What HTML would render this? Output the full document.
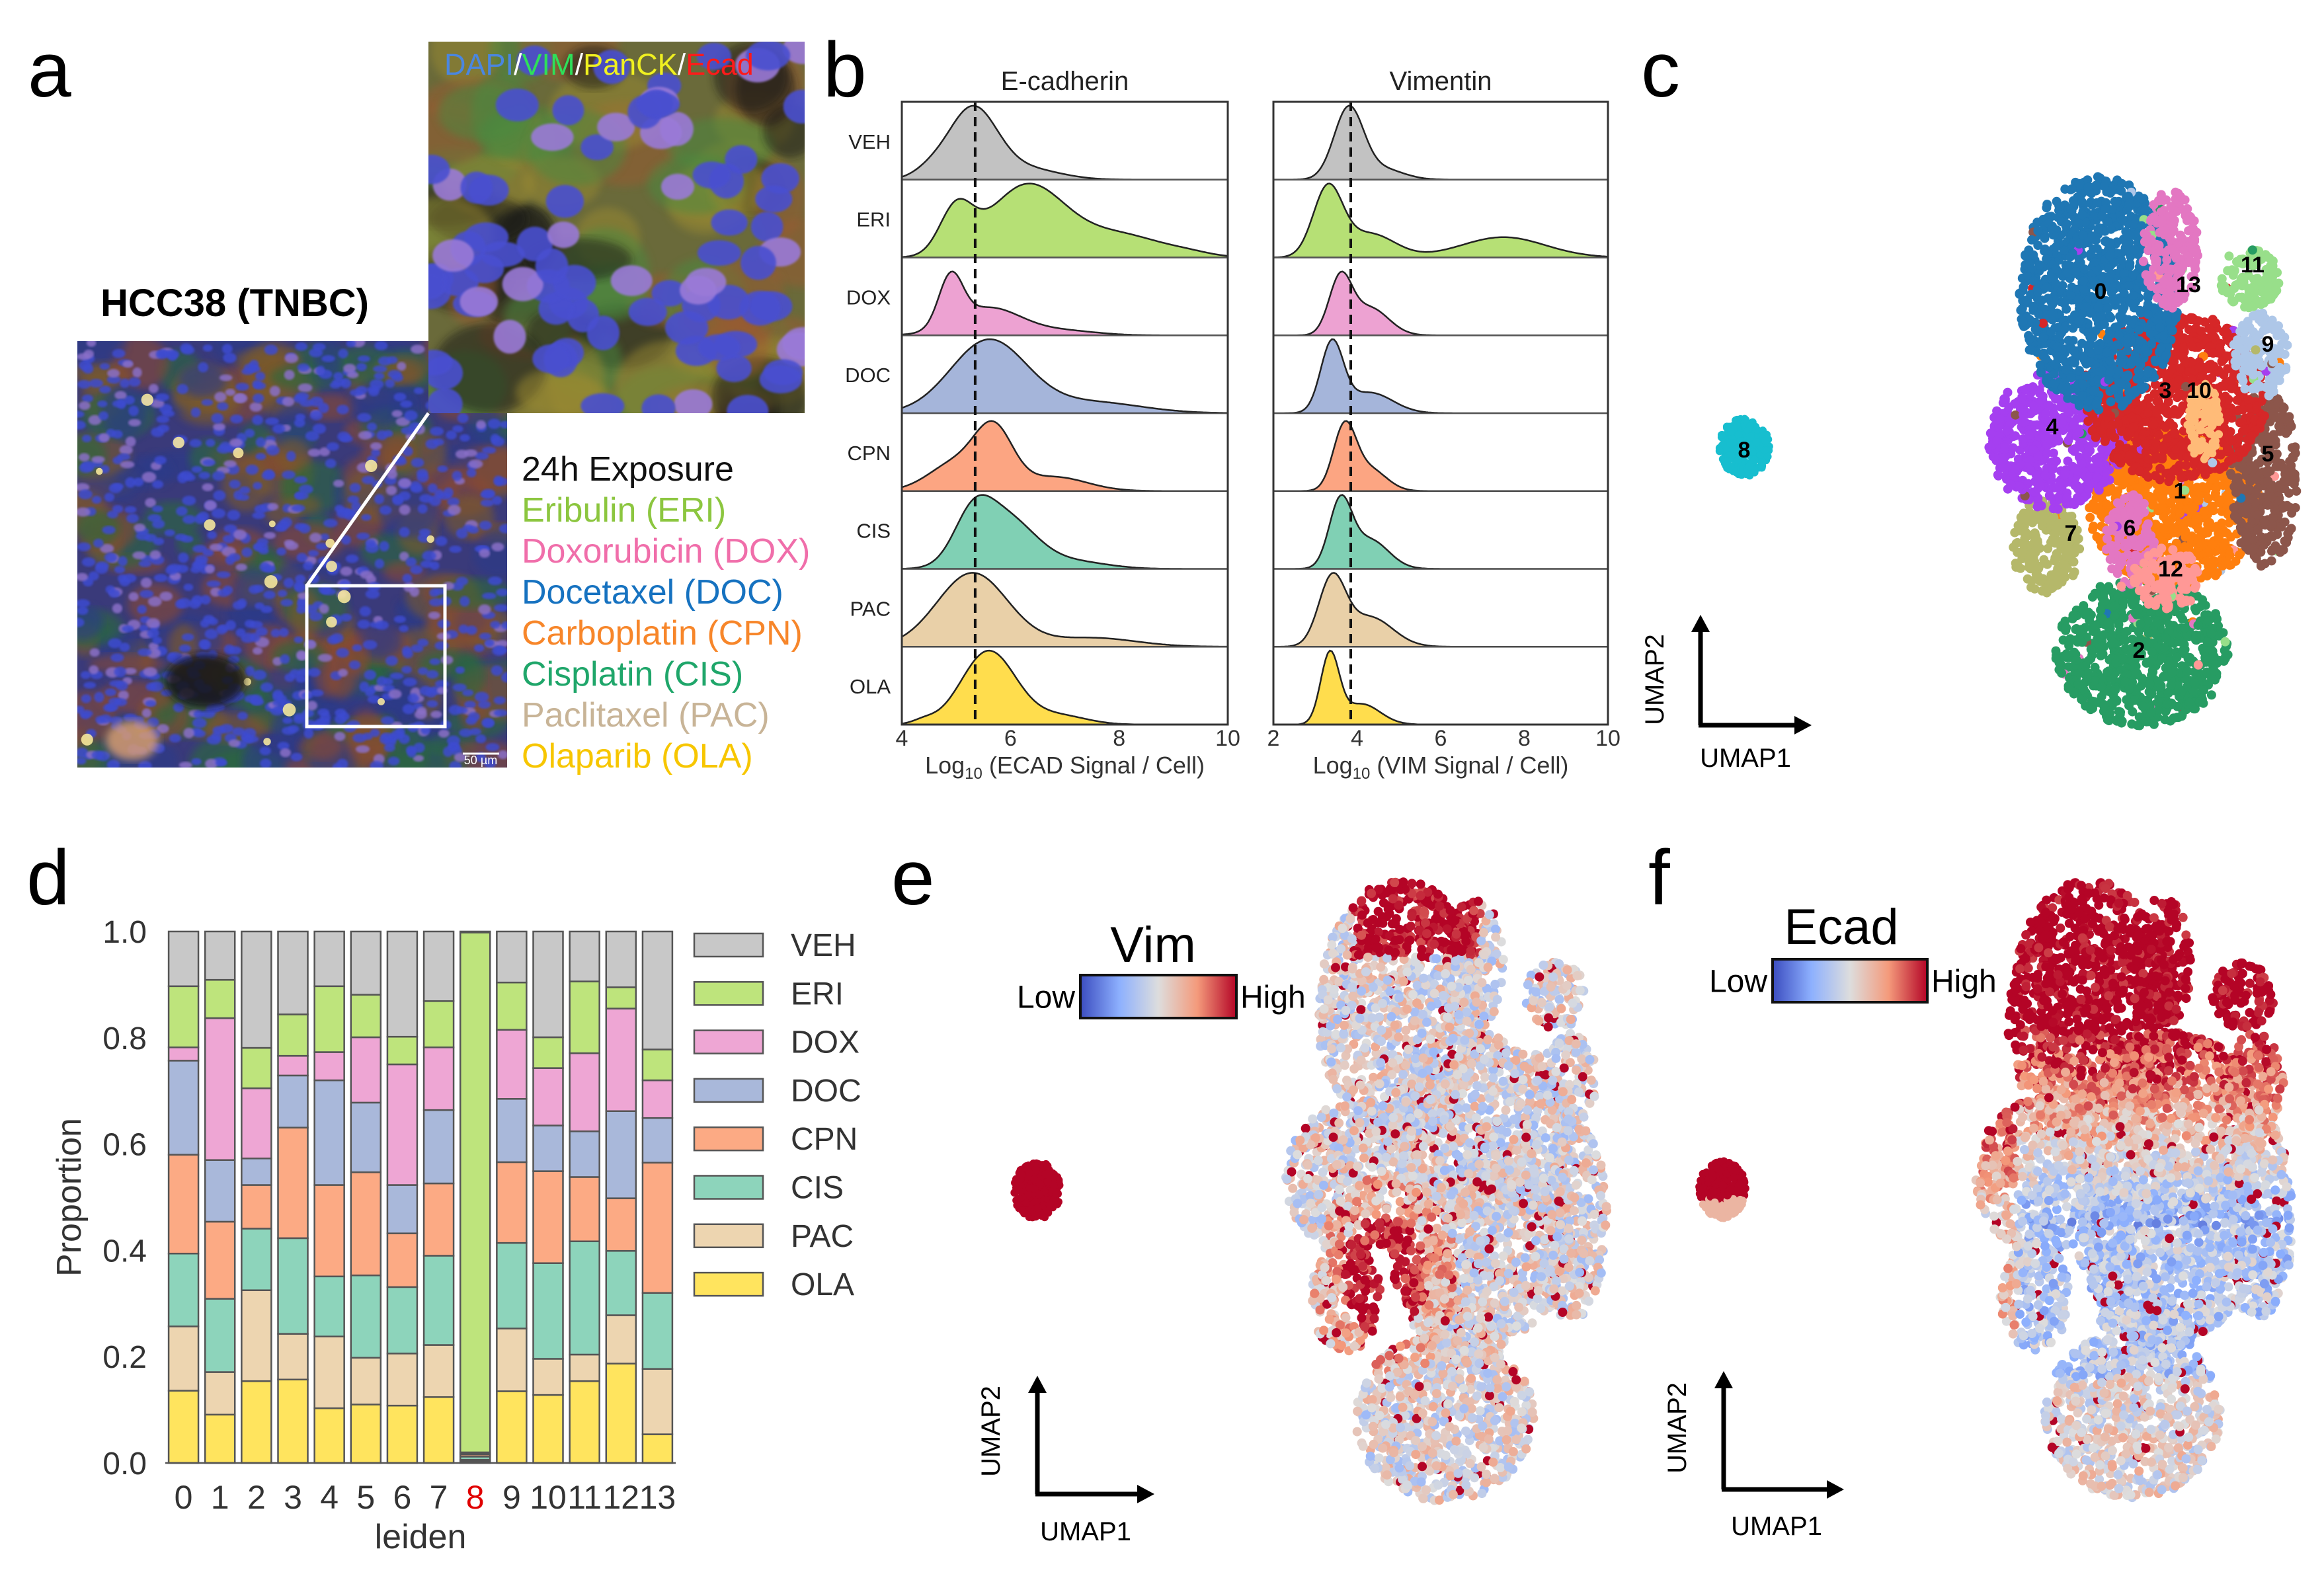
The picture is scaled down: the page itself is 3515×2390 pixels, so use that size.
<!DOCTYPE html>
<html><head><meta charset="utf-8">
<style>
html,body{margin:0;padding:0;background:#fff;}
svg{display:block;font-family:"Liberation Sans",Arial,sans-serif;}
</style></head>
<body>
<svg id="fig" width="3515" height="2390" viewBox="0 0 3515 2390" xmlns="http://www.w3.org/2000/svg">
<defs>
  <linearGradient id="cw" x1="0" x2="1" y1="0" y2="0">
    <stop offset="0" stop-color="#3b4cc0"/><stop offset="0.25" stop-color="#8db0fe"/>
    <stop offset="0.5" stop-color="#dddddd"/><stop offset="0.75" stop-color="#f49a7b"/>
    <stop offset="1" stop-color="#b40426"/>
  </linearGradient>
  <filter id="blur4"><feGaussianBlur stdDeviation="6"/></filter>
  <filter id="blur2"><feGaussianBlur stdDeviation="1.5"/></filter>
  <clipPath id="clipBig"><rect x="117" y="516" width="650" height="645"/></clipPath>
  <clipPath id="clipIn"><rect x="648" y="63" width="569" height="562"/></clipPath>
</defs>

<text x="42" y="146" font-size="118">a</text>
<text x="1245" y="146" font-size="118">b</text>
<text x="2482" y="146" font-size="118">c</text>
<text x="40" y="1368" font-size="118">d</text>
<text x="1348" y="1368" font-size="118">e</text>
<text x="2493" y="1368" font-size="118">f</text>

<g id="panelA">
  <text x="152" y="478" font-size="58" font-weight="bold">HCC38 (TNBC)</text>
  <rect x="117" y="516" width="650" height="645" fill="#3a3a7a"/>
  <g id="bigCells" clip-path="url(#clipBig)"></g>
  <rect x="648" y="63" width="569" height="562" fill="#6a6a3a"/>
  <g id="inCells" clip-path="url(#clipIn)"></g>
  <rect x="464" y="886" width="209" height="213" fill="none" stroke="#fff" stroke-width="5"/>
  <line x1="464" y1="886" x2="648" y2="625" stroke="#fff" stroke-width="5"/>
  <line x1="700" y1="1140" x2="755" y2="1140" stroke="#fff" stroke-width="3"/>
  <text x="727" y="1140" font-size="18" fill="#fff" text-anchor="middle" dy="16">50 µm</text>
  <text x="672" y="113" font-size="45"><tspan fill="#4a86e0">DAPI</tspan><tspan fill="#fff">/</tspan><tspan fill="#2ee05a">VIM</tspan><tspan fill="#fff">/</tspan><tspan fill="#f0f020">PanCK</tspan><tspan fill="#fff">/</tspan><tspan fill="#ff1a1a">Ecad</tspan></text>
  <g font-size="52">
    <text x="789" y="727" fill="#111">24h Exposure</text>
    <text x="789" y="789" fill="#8cc63f">Eribulin (ERI)</text>
    <text x="789" y="851" fill="#f06eaa">Doxorubicin (DOX)</text>
    <text x="789" y="913" fill="#1672c0">Docetaxel (DOC)</text>
    <text x="789" y="975" fill="#f7862a">Carboplatin (CPN)</text>
    <text x="789" y="1037" fill="#1fa66a">Cisplatin (CIS)</text>
    <text x="789" y="1099" fill="#c8b497">Paclitaxel (PAC)</text>
    <text x="789" y="1161" fill="#f7c600">Olaparib (OLA)</text>
  </g>
</g>

<g id="panelB"></g>
<g id="panelC"></g>
<g id="panelD"></g>
<g id="panelE"></g>
<g id="panelF"></g>
</svg>

<script>
// ===== Panel d data (cumulative proportion tops per leiden cluster) =====
const leidenCats = ["0","1","2","3","4","5","6","7","8","9","10","11","12","13"];
const seriesNames = ["OLA","PAC","CIS","CPN","DOC","DOX","ERI","VEH"];
const cumOLA = [0.136,0.091,0.154,0.157,0.103,0.110,0.108,0.124,0.003,0.135,0.128,0.154,0.187,0.054];
const cumPAC = [0.257,0.171,0.325,0.243,0.238,0.198,0.206,0.222,0.006,0.253,0.196,0.204,0.278,0.177];
const cumCIS = [0.394,0.309,0.441,0.423,0.351,0.353,0.331,0.390,0.012,0.414,0.376,0.417,0.399,0.320];
const cumCPN = [0.580,0.454,0.523,0.631,0.523,0.547,0.432,0.526,0.016,0.566,0.549,0.538,0.498,0.565];
const cumDOC = [0.757,0.570,0.573,0.729,0.720,0.678,0.523,0.664,0.018,0.685,0.635,0.624,0.662,0.649];
const cumDOX = [0.782,0.837,0.705,0.766,0.773,0.801,0.750,0.782,0.020,0.815,0.743,0.771,0.855,0.720];
const cumERI = [0.897,0.909,0.781,0.844,0.897,0.881,0.802,0.869,0.998,0.904,0.801,0.906,0.895,0.778];
const cumVEH = [1,1,1,1,1,1,1,1,1,1,1,1,1,1];
const yTicks = [0,0.2,0.4,0.6,0.8,1.0];
const yTickLabels = ["0.0","0.2","0.4","0.6","0.8","1.0"];

// ===== Panel b data: density mixture components [mean, sd, weight] =====
const ridgeRows = ["VEH","ERI","DOX","DOC","CPN","CIS","PAC","OLA"];
const ecadVEH = [[5.3,0.45,1],[6.3,0.6,0.15],[4.5,0.3,0.1]];
const ecadERI = [[5.0,0.3,0.5],[6.3,0.7,0.8],[8.0,0.8,0.25],[9.3,0.4,0.03]];
const ecadDOX = [[4.9,0.22,0.9],[5.6,0.6,0.5],[7.0,0.6,0.08]];
const ecadDOC = [[5.6,0.7,1],[7.5,0.9,0.15]];
const ecadCPN = [[5.7,0.35,0.8],[5.0,0.5,0.4],[6.8,0.6,0.2]];
const ecadCIS = [[5.3,0.35,0.6],[5.9,0.55,0.75],[7.2,0.6,0.1]];
const ecadPAC = [[5.3,0.65,1],[7.5,0.8,0.12]];
const ecadOLA = [[5.6,0.5,1],[6.9,0.5,0.12],[4.4,0.2,0.05]];
const vimVEH = [[3.8,0.35,1],[4.6,0.5,0.15]];
const vimERI = [[3.3,0.35,1],[4.3,0.6,0.35],[7.5,1.0,0.3]];
const vimDOX = [[3.6,0.27,1],[4.3,0.45,0.5]];
const vimDOC = [[3.4,0.27,1],[4.3,0.55,0.3]];
const vimCPN = [[3.7,0.27,1],[4.3,0.4,0.35]];
const vimCIS = [[3.6,0.27,1],[4.3,0.45,0.45]];
const vimPAC = [[3.4,0.32,1],[4.3,0.55,0.45]];
const vimOLA = [[3.35,0.22,1],[4.1,0.45,0.3]];
const ridgePeak = [0.95,0.95,0.82,0.95,0.9,0.95,0.95,0.95];
const ecadMedian = [5.35];
const vimMedian = [3.85];

const NS = "http://www.w3.org/2000/svg";
function mk(tag, attrs, parent){
  const e = document.createElementNS(NS, tag);
  for (const k in attrs) e.setAttribute(k, attrs[k]);
  if (parent) parent.appendChild(e);
  return e;
}
let seed = 12345;
function rnd(){ seed |= 0; seed = seed + 0x6D2B79F5 | 0; let t = Math.imul(seed ^ seed >>> 15, 1 | seed); t = t + Math.imul(t ^ t >>> 7, 61 | t) ^ t; return ((t ^ t >>> 14) >>> 0) / 4294967296; }

// ===== Panel a microscopy texture (decorative) =====
(function(){
  const big = document.getElementById('bigCells');
  const cols = ['#7a5a2a','#2a6a3a','#8a4a30','#2a3a8a'];
  for (let i=0;i<220;i++){
    mk('ellipse',{cx:117+rnd()*650, cy:516+rnd()*645, rx:20+rnd()*40, ry:15+rnd()*30, fill:cols[i%4], opacity:0.6, filter:'url(#blur4)'}, big);
  }
  for (let i=0;i<900;i++){
    mk('ellipse',{cx:117+rnd()*650, cy:516+rnd()*645, rx:7+rnd()*4, ry:5+rnd()*3, fill:rnd()<0.8?'#3c4cd0':'#8a70c8', opacity:0.85, filter:'url(#blur2)'}, big);
  }
  for (let i=0;i<18;i++){
    mk('circle',{cx:117+rnd()*650, cy:516+rnd()*645, r:5+rnd()*5, fill:'#fff0a0', opacity:0.85}, big);
  }
  mk('ellipse',{cx:310,cy:1030,rx:60,ry:40,fill:'#151515',opacity:0.85,filter:'url(#blur4)'},big);
  mk('ellipse',{cx:200,cy:1120,rx:40,ry:30,fill:'#e0a070',opacity:0.8,filter:'url(#blur4)'},big);
  const inn = document.getElementById('inCells');
  for (let i=0;i<70;i++){
    mk('ellipse',{cx:648+rnd()*569, cy:63+rnd()*562, rx:40+rnd()*50, ry:30+rnd()*40, fill:['#9a8a30','#4a8a40','#9a5a30','#151515'][i%4], opacity:0.5, filter:'url(#blur4)'}, inn);
  }
  for (let i=0;i<85;i++){
    mk('ellipse',{cx:648+rnd()*569, cy:63+rnd()*562, rx:24+rnd()*10, ry:19+rnd()*8, fill:rnd()<0.85?'#4a50d0':'#9a7ad8', opacity:0.9, filter:'url(#blur2)'}, inn);
  }
})();

// ===== Panel b ridge plots =====
(function(){
  const g = document.getElementById('panelB');
  const top = 154, bot = 1096, nR = ridgeRows.length, rh = (bot-top)/nR;
  const colors = ['#c2c2c2','#b6e075','#eda2d2','#a5b5da','#fca582','#80d0b4','#e9d0a8','#ffdd4d'];
  const panels = [
    {name:'ecad', x0:1364, x1:1857, min:4, max:10, ticks:[4,6,8,10], title:'E-cadherin', data:[ecadVEH,ecadERI,ecadDOX,ecadDOC,ecadCPN,ecadCIS,ecadPAC,ecadOLA], med:ecadMedian[0], lab:'ECAD'},
    {name:'vim', x0:1926, x1:2432, min:2, max:10, ticks:[2,4,6,8,10], title:'Vimentin', data:[vimVEH,vimERI,vimDOX,vimDOC,vimCPN,vimCIS,vimPAC,vimOLA], med:vimMedian[0], lab:'VIM'}
  ];
  panels.forEach(p=>{
    const sx = v => p.x0 + (v-p.min)/(p.max-p.min)*(p.x1-p.x0);
    const t = mk('text',{x:(p.x0+p.x1)/2, y:136, 'font-size':40, 'text-anchor':'middle', fill:'#222'}, g);
    t.textContent = p.title;
    
    
    p.data.forEach((comps,i)=>{
      const base = top + (i+1)*rh;
      const N=160; const ys=[];
      let mx=0;
      for (let k=0;k<=N;k++){
        const v = p.min + (p.max-p.min)*k/N;
        let d=0; comps.forEach(c=>{ d += c[2]*Math.exp(-0.5*Math.pow((v-c[0])/c[1],2)); });
        ys.push(d); if(d>mx) mx=d;
      }
      let dpath = 'M'+p.x0+','+base;
      ys.forEach((d,k)=>{ const v=p.min+(p.max-p.min)*k/N; dpath += ' L'+sx(v).toFixed(1)+','+(base - d/mx*ridgePeak[i]*rh).toFixed(1); });
      dpath += ' L'+p.x1+','+base+' Z';
      const path = mk('path',{d:dpath, fill:colors[i], stroke:'#222', 'stroke-width':2.5}, g);
      
      
      const sep = mk('line',{x1:p.x0,x2:p.x1,y1:base,y2:base,stroke:'#555','stroke-width':2}, g);
      
      
      if (p.name==='ecad'){
        const lt = mk('text',{x:1347, y:top+(i+0.5)*rh+12, 'font-size':31, 'text-anchor':'end', fill:'#222'}, g);
        lt.textContent = ridgeRows[i];
        
        
      }
    });
    const ml = mk('line',{x1:sx(p.med),x2:sx(p.med),y1:top,y2:bot,stroke:'#111','stroke-width':4,'stroke-dasharray':'14,9'}, g);
    
    
    const fr = mk('rect',{x:p.x0,y:top,width:p.x1-p.x0,height:bot-top,fill:'none',stroke:'#333','stroke-width':3}, g);
    
    
    p.ticks.forEach(tv=>{
      const tt = mk('text',{x:sx(tv), y:1128, 'font-size':34, 'text-anchor':'middle', fill:'#333'}, g);
      tt.textContent = tv;
      
      
    });
    const xl = mk('text',{x:(p.x0+p.x1)/2, y:1170, 'font-size':36, 'text-anchor':'middle', fill:'#333'}, g);
    xl.innerHTML = 'Log<tspan font-size="24" dy="8">10</tspan><tspan dy="-8"> ('+p.lab+' Signal / Cell)</tspan>';
    
    
  });
})();

// ===== UMAP shape (normalized ellipse regions) =====
const clusterIds = ["0","13","11","9","3","4","5","1","7","6","12","2"];
const clusterColors = ["#1f77b4","#e377c2","#98df8a","#aec7e8","#d62728","#a53ff0","#8c564b","#ff7f0e","#b5b86a","#e377c2","#ff9896","#279c63"];
const ell = [
  [0.349,0.192,0.26,0.22],[0.581,0.110,0.09,0.11],[0.835,0.164,0.10,0.055],[0.874,0.307,0.09,0.08],
  [0.595,0.384,0.30,0.16],[0.209,0.466,0.22,0.13],[0.884,0.534,0.11,0.17],[0.595,0.589,0.28,0.15],
  [0.177,0.666,0.11,0.09],[0.451,0.658,0.08,0.09],[0.567,0.726,0.11,0.06],[0.488,0.863,0.28,0.14]
];
const drawOrder = [11,8,7,6,5,4,0,1,3,2,9,10];
function samplePts(n){
  const pts=[]; const areas = ell.map(e=>e[2]*e[3]); const tot = areas.reduce((a,b)=>a+b,0);
  drawOrder.forEach(ci=>{
    const e = ell[ci]; const k = Math.round(n*areas[ci]/tot);
    for (let i=0;i<k;i++){
      const a=rnd()*Math.PI*2, r=Math.sqrt(rnd());
      pts.push({u:e[0]+Math.cos(a)*r*e[2], v:e[1]+Math.sin(a)*r*e[3], c:ci});
    }
  });
  return pts;
}
function cw(t){
  t=Math.max(0,Math.min(1,t));
  const st=[[0,[59,76,192]],[0.25,[141,176,254]],[0.5,[221,221,221]],[0.75,[244,154,123]],[1,[180,4,38]]];
  for (let i=0;i<4;i++){ if (t<=st[i+1][0]){ const f=(t-st[i][0])/(st[i+1][0]-st[i][0]); const a=st[i][1],b=st[i+1][1];
    return 'rgb('+a.map((x,j)=>Math.round(x+(b[j]-x)*f)).join(',')+')'; } }
  return 'rgb(180,4,38)';
}
function umapAxes(g, x, y0, y1, x1, lab2x, lab2y, lab1x, lab1y, pfx){
  const l1 = mk('line',{x1:x,y1:y0,x2:x,y2:y1+20,stroke:'#000','stroke-width':7}, g);
   
  const h1 = mk('polygon',{points:(x-14)+','+(y1+26)+' '+(x+14)+','+(y1+26)+' '+x+','+y1, fill:'#000'}, g);
   
  const l2 = mk('line',{x1:x-3,y1:y0,x2:x1-22,y2:y0,stroke:'#000','stroke-width':7}, g);
   
  const h2 = mk('polygon',{points:(x1-26)+','+(y0-14)+' '+(x1-26)+','+(y0+14)+' '+x1+','+y0, fill:'#000'}, g);
   
  const t2 = mk('text',{x:lab2x,y:lab2y,'font-size':40,'text-anchor':'middle',transform:'rotate(-90 '+lab2x+' '+lab2y+')'}, g);
  t2.textContent='UMAP2';  
  const t1 = mk('text',{x:lab1x,y:lab1y,'font-size':40,'text-anchor':'middle'}, g);
  t1.textContent='UMAP1';  
}

// ===== Panel c =====
(function(){
  const g = document.getElementById('panelC');
  const bx=3012, by=289, bw=466, bh=808;
  const pts = samplePts(5500);
  pts.forEach(p=>{
    const col = rnd()<0.02 ? clusterColors[Math.floor(rnd()*12)] : clusterColors[p.c];
    const d = mk('circle',{cx:(bx+p.u*bw).toFixed(1), cy:(by+p.v*bh).toFixed(1), r:7, fill:col}, g);
     
  });
  for (let i=0;i<140;i++){ const a=rnd()*6.28,r=Math.sqrt(rnd());
    const d = mk('circle',{cx:3333+Math.cos(a)*r*25, cy:640+Math.sin(a)*r*60, r:6, fill:'#ffbb78'}, g);
      }
  for (let i=0;i<300;i++){ const a=rnd()*6.28,r=Math.sqrt(rnd());
    const d = mk('circle',{cx:2638+Math.cos(a)*r*38, cy:677+Math.sin(a)*r*44, r:6, fill:'#17becf'}, g);
      }
  const labs = [["0",3177,452],["13",3310,442],["11",3407,412],["9",3430,532],["3",3275,602],["10",3326,602],["4",3104,657],["5",3430,698],["1",3297,754],["7",3132,818],["6",3221,810],["12",3283,872],["2",3235,995],["8",2638,692]];
  labs.forEach(l=>{
    const t = mk('text',{x:l[1],y:l[2],'font-size':34,'font-weight':'bold','text-anchor':'middle'}, g);
    t.textContent = l[0];
     
  });
  umapAxes(g, 2572, 1097, 930, 2740, 2516, 1028, 2640, 1160, 'c');
})();

// ===== Panels e & f =====
function expr(g, bx, by, bw, bh, fn, sx, sy, sfn){
  const pts = samplePts(5500);
  for (let i=pts.length-1;i>0;i--){ const j=Math.floor(rnd()*(i+1)); const t=pts[i]; pts[i]=pts[j]; pts[j]=t; }
  pts.forEach(p=>{
    const d = mk('circle',{cx:(bx+p.u*bw).toFixed(1), cy:(by+p.v*bh).toFixed(1), r:7, fill:cw(fn(p.u,p.v))}, g);
     
  });
  for (let i=0;i<300;i++){ const a=rnd()*6.28,r=Math.sqrt(rnd());
    const yy = Math.sin(a)*r;
    const d = mk('circle',{cx:sx+Math.cos(a)*r*36, cy:sy+yy*44, r:6, fill:cw(sfn(yy))}, g);
      }
}
function colorbar(g, x, y, w, h, title, tx, ty, pfx){
  const r = mk('rect',{x:x,y:y,width:w,height:h,fill:'url(#cw)',stroke:'#111','stroke-width':4}, g);
   
  const lo = mk('text',{x:x-8,y:y+h/2+17,'font-size':48,'text-anchor':'end'}, g);
  lo.textContent='Low';  
  const hi = mk('text',{x:x+w+6,y:y+h/2+17,'font-size':48}, g);
  hi.textContent='High';  
  const t = mk('text',{x:tx,y:ty,'font-size':76,'text-anchor':'middle'}, g);
  t.textContent=title;  
}
(function(){
  const g = document.getElementById('panelE');
  colorbar(g, 1634, 1475, 236, 65, 'Vim', 1744, 1455, 'e');
  expr(g, 1950, 1356, 483, 913, (u,v)=>{
    let t = 0.3 + rnd()*0.4;
    if (v<0.1 && u>0.2 && u<0.6) t = 0.85+rnd()*0.3;
    const dx=(u-0.3)/0.13, dy=(v-0.63)/0.1; if (dx*dx+dy*dy<1) t = 0.8+rnd()*0.3;
    else if (dx*dx+dy*dy<3) t += 0.15;
    if (rnd()<0.06) t = 1;
    return t;
  }, 1569, 1800, ()=>1);
  umapAxes(g, 1569, 2260, 2081, 1746, 1512, 2165, 1642, 2330, 'e');
})();
(function(){
  const g = document.getElementById('panelF');
  colorbar(g, 2681, 1451, 234, 65, 'Ecad', 2785, 1428, 'f');
  expr(g, 2993, 1356, 478, 908, (u,v)=>{
    let t;
    if (v<0.22) t = 0.9+rnd()*0.3;
    else if (v<0.55) t = 1.0 - (v-0.22)*2.2 + (rnd()-0.5)*0.35;
    else if (v<0.8) t = 0.2+rnd()*0.35;
    else t = 0.35+rnd()*0.35;
    if (u<0.12) t += 0.25;
    if (rnd()<0.04) t = 1;
    return t;
  }, 2605, 1800, (yy)=> yy<0.3 ? 1 : 0.65);
  umapAxes(g, 2607, 2253, 2074, 2789, 2550, 2160, 2687, 2322, 'f');
})();

// ===== Panel d stacked bars =====
(function(){
  const g = document.getElementById('panelD');
  const x0=250, x1=1022, y0=2213, y1=1409;
  const sy = v => y0 - v*(y0-y1);
  const slot = (x1-x0)/leidenCats.length, bw = 45;
  const sx = i => x0 + slot*(i+0.5);
  const cums = [cumOLA,cumPAC,cumCIS,cumCPN,cumDOC,cumDOX,cumERI,cumVEH];
  const cols = ['#ffe45e','#edd5b0','#8dd4bb','#fcaa84','#a9b8da','#eea6d4','#bee47c','#c8c8c8'];
  leidenCats.forEach((c,i)=>{
    let prev=0;
    cums.forEach((arr,s)=>{
      const r = mk('rect',{x:sx(i)-bw/2, y:sy(arr[i]), width:bw, height:Math.max(0,sy(prev)-sy(arr[i])), fill:cols[s], stroke:'#555','stroke-width':2.5}, g);
      
      
      prev = arr[i];
    });
    const t = mk('text',{x:sx(i), y:2282, 'font-size':50,'text-anchor':'middle', fill: c==='8'?'#e00000':'#333'}, g);
    t.textContent = c;
     
  });
  const base = mk('line',{x1:x0,x2:x1,y1:y0,y2:y0,stroke:'#555','stroke-width':2.5}, g);
   
  yTicks.forEach((v,i)=>{
    const t = mk('text',{x:222, y:sy(v)+17, 'font-size':48,'text-anchor':'end', fill:'#333'}, g);
    t.textContent = yTickLabels[i];
     
  });
  const yt = mk('text',{x:122,y:1811,'font-size':52,'text-anchor':'middle',fill:'#333',transform:'rotate(-90 122 1811)'}, g);
  yt.textContent='Proportion';  
  const xt = mk('text',{x:636,y:2342,'font-size':52,'text-anchor':'middle',fill:'#333'}, g);
  xt.textContent='leiden';  
  const legOrder = [7,6,5,4,3,2,1,0];
  legOrder.forEach((s,k)=>{
    const yy = 1429 + k*73.3;
    const p = mk('rect',{x:1050,y:yy-17,width:104,height:35,fill:cols[s],stroke:'#555','stroke-width':2.5}, g);
     
    const t = mk('text',{x:1196,y:yy+17,'font-size':48,fill:'#333'}, g);
    t.textContent = seriesNames[s];
     
  });
})();
</script>
</body></html>
